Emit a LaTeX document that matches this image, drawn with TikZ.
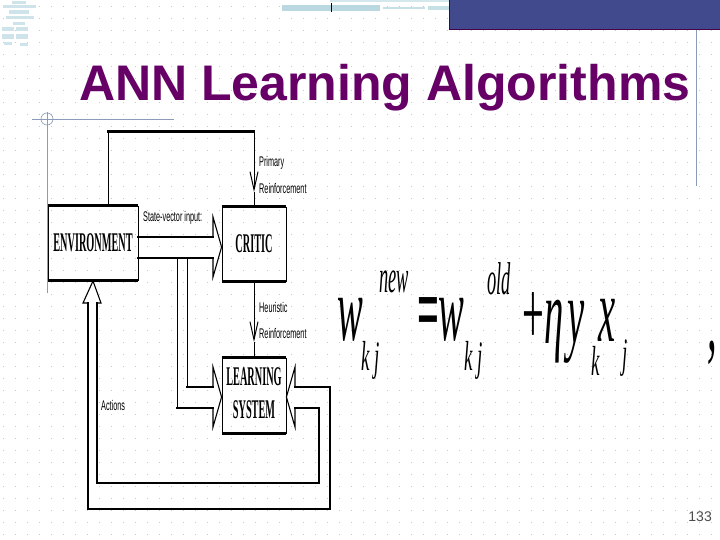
\documentclass[tikz,border=0pt]{standalone}
\usepackage{fontspec}
\usepackage{graphicx}
\setmainfont{Liberation Serif}
\newfontfamily\titlefont{Liberation Sans}
\newfontfamily\labelfont{Liberation Sans}
\usetikzlibrary{arrows.meta,calc}

\definecolor{titlepurple}{HTML}{660066}
\definecolor{barblue}{HTML}{414A8C}
\definecolor{ruleblue}{HTML}{8A9AB8}
\definecolor{thumbteal}{HTML}{A8CFD8}

\newcommand{\narrow}[2]{\scalebox{#1}[1]{#2}}

\begin{document}
\begin{tikzpicture}[x=1pt,y=-1pt,
  box/.style={draw, line width=0.8pt, inner sep=0pt, font=\bfseries\fontsize{27}{33}\selectfont},
  boxedge/.style={line width=2.6pt},
  lbl/.style={anchor=west, inner sep=0pt, font=\labelfont\fontsize{14}{14}\selectfont},
  shaft/.style={line width=2.2pt, line cap=rect},
  head/.style={line width=1.1pt, line join=miter},
  wire/.style={line width=0.9pt},
  barb/.style={-{Straight Barb[length=18pt,width=8pt,line width=1pt]}},
  eqmain/.style={inner sep=0pt, font=\itshape\fontsize{92}{92}\selectfont},
  eqsub/.style={inner sep=0pt, font=\itshape\fontsize{42}{42}\selectfont},
  eqsup/.style={inner sep=0pt, font=\itshape\fontsize{46}{46}\selectfont},
  griddots/.style={black!22, line width=0.9pt, dash pattern=on 0.9pt off 11.1pt}
]
\useasboundingbox (0,0) rectangle (720,540);
\fill[white] (0,0) rectangle (720,540);

% slide background
\foreach \r in {6,18,...,534}
  \draw[griddots] (3,\r) -- (720,\r);
\filldraw[fill=barblue, draw=titlepurple!70!black, line width=1pt] (449,-2) rectangle (722,30);
\draw[ruleblue, line width=0.8pt] (696,30) -- (696,186);
\draw[ruleblue, line width=0.8pt] (32,119) -- (174,119);
\draw[ruleblue, line width=0.8pt] (47,112) -- (47,293);
\draw[ruleblue, line width=0.6pt] (47,119) circle[radius=6pt];

% thumbnails
\fill[thumbteal!55] (12,1) rectangle (26,4);
\fill[thumbteal!55] (3,5) rectangle (36,8);
\fill[thumbteal!55] (9,10) rectangle (29,14);
\fill[thumbteal!55] (6,16) rectangle (34,19);
\fill[thumbteal!55] (13,22) rectangle (25,25);
\fill[thumbteal!55] (2,27) rectangle (14,31);
\fill[thumbteal!55] (16,27) rectangle (28,31);
\fill[thumbteal!55] (2,34) rectangle (14,39);
\fill[thumbteal!55] (16,34) rectangle (28,39);
\fill[thumbteal!55] (4,42) rectangle (12,45);
\fill[thumbteal!55] (20,43) rectangle (28,46);
\fill[thumbteal!50] (330,0) rectangle (449,2);
\fill[thumbteal!80] (282,5) rectangle (380,11);
\fill[thumbteal!65] (383,7) rectangle (425,9);
\fill[thumbteal!65] (428,6) rectangle (449,10);
\draw[black, line width=0.8pt] (331,3) -- (331,12);

% title
\node[anchor=base west, inner sep=0pt, text=titlepurple,
  font=\titlefont\bfseries\fontsize{50}{50}\selectfont] (title) at (79,101) {ANN Learning Algorithms};

% blocks
\node[box, minimum width=90pt, minimum height=74pt] (env) at (93,243) {\narrow{0.38}{ENVIRONMENT}};
\node[box, minimum width=64pt, minimum height=74pt] (critic) at (254,244) {\narrow{0.38}{CRITIC}};
\node[box, minimum width=64pt, minimum height=75pt] (learn) at (254,395.5)
  {\narrow{0.38}{\begin{tabular}{@{}c@{}}LEARNING\\SYSTEM\end{tabular}}};
\draw[boxedge] (env.north west) -- (env.north east);
\draw[boxedge] (env.south west) -- (env.south east);
\draw[boxedge] (critic.north west) -- (critic.north east);
\draw[boxedge] (critic.south west) -- (critic.south east);
\draw[boxedge] (learn.north west) -- (learn.north east);
\draw[boxedge] (learn.south west) -- (learn.south east);

% primary reinforcement
\coordinate (ptip) at (critic.north |- 0,192);
\draw[wire] ($(env.north)+(15,0)$) -- ++(0,-74) coordinate (pcorner);
\draw[shaft] (pcorner) -- (pcorner -| ptip);
\draw[wire, barb] (pcorner -| ptip) -- (ptip);
\draw[wire] (ptip) -- (critic.north);
\node[lbl] (primary) at (259,163) {\narrow{0.52}{Primary}};
\node[lbl] (reinfa) at (259,188) {\narrow{0.52}{Reinforcement}};

% state-vector input
\draw[shaft] (env.east |- 0,237) -- (213,237);
\draw[shaft] (env.east |- 0,258) -- (213,258);
\draw[head] (213,237) -- (213,217) -- (critic.west |- 0,247) -- (213,277) -- (213,258);
\node[lbl] (svin) at (143,218) {\narrow{0.52}{State-vector input:}};

% branch to learning system
\draw[wire] (187,258) -- (187,387);
\draw[wire] (177,258) -- (177,408);
\draw[shaft] (187,387) -- (213,387);
\draw[shaft] (177,408) -- (213,408);
\draw[head] (213,387) -- (213,367) -- (learn.west |- 0,397) -- (213,427) -- (213,408);

% heuristic reinforcement
\coordinate (htip) at (critic.south |- 0,342);
\draw[wire, barb] (critic.south) -- (htip);
\draw[wire] (htip) -- (learn.north);
\node[lbl] (heur) at (259,307) {\narrow{0.52}{Heuristic}};
\node[lbl] (reinfb) at (259,333) {\narrow{0.52}{Reinforcement}};

% actions loop
\draw[head] (295,387) -- (295,367) -- (learn.east |- 0,397) -- (295,427) -- (295,408);
\draw[shaft] (295,387) -- (330,387) -- (330,509) -- (88,509) -- (88,303);
\draw[shaft] (295,408) -- (319,408) -- (319,483) -- (97,483) -- (97,303);
\draw[head] (88,303) -- (83,303) -- (env.south |- 0,281) -- (101,303) -- (97,303);
\node[lbl] (actions) at (101,405) {\narrow{0.52}{Actions}};

% learning rule
\node[eqmain] (wa) at (350,320) {\narrow{0.42}{w}};
\node[eqsub] (kja) at (371,360) {\narrow{0.45}{k j}};
\node[eqsup] (new) at (394,282) {\narrow{0.4}{new}};
\node[eqmain] (eq) at (429,319) {\narrow{0.42}{\upshape\bfseries =}};
\node[eqmain] (wb) at (451,320) {\narrow{0.42}{w}};
\node[eqsub] (kjb) at (474,360) {\narrow{0.45}{k j}};
\node[eqsup] (old) at (499,279) {\narrow{0.4}{old}};
\node[eqmain] (plus) at (533,319) {\narrow{0.42}{\upshape +}};
\node[eqmain] (eta) at (554,332) {\narrow{0.42}{η}};
\node[eqmain] (yk) at (576,332) {\narrow{0.42}{y}};
\node[eqsub] (ksub) at (596,361) {\narrow{0.45}{k}};
\node[eqmain] (xj) at (607,320) {\narrow{0.42}{x}};
\node[eqsub] (jsub) at (625,358) {\narrow{0.45}{j}};
\node[eqmain] (comma) at (712,353) {\narrow{0.42}{,}};

% page number
\node[anchor=east, inner sep=0pt, text=black!70,
  font=\labelfont\fontsize{14}{14}\selectfont] (pagenum) at (712,517) {133};
\end{tikzpicture}
\end{document}
